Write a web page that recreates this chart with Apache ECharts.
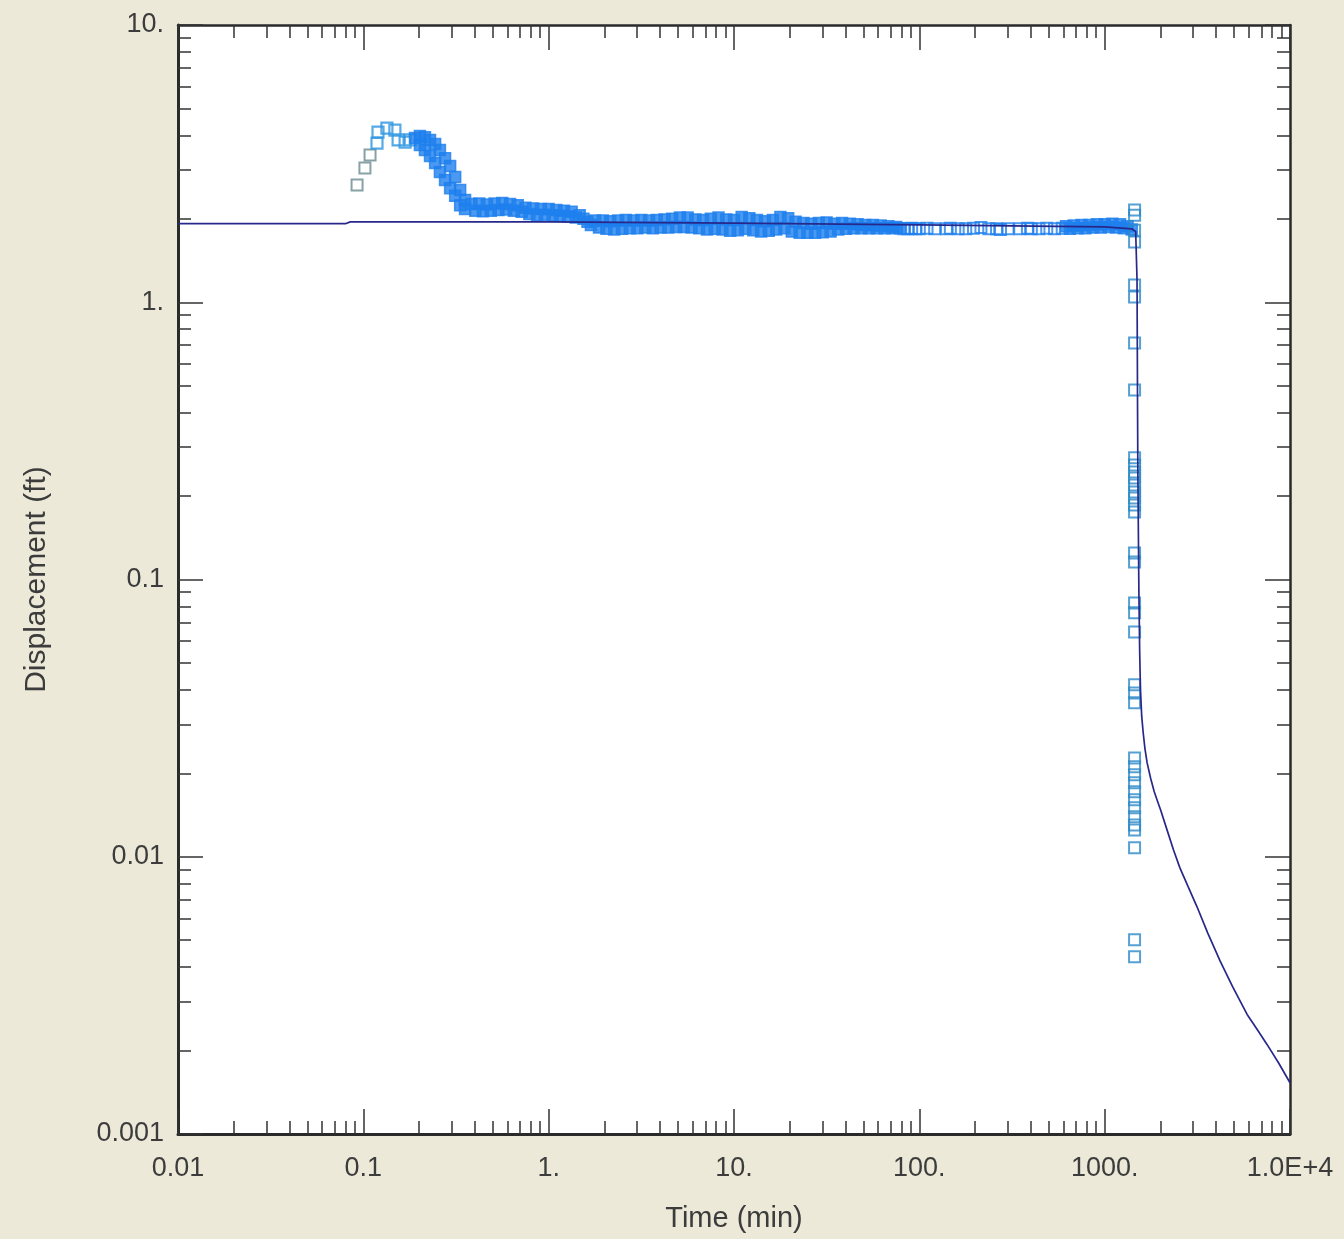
<!DOCTYPE html>
<html>
<head>
<meta charset="utf-8">
<script src="https://cdn.jsdelivr.net/npm/echarts@6/dist/echarts.min.js"></script>
<style>
html,body{margin:0;padding:0;background:#ece9d8;}
#chart{width:1344px;height:1239px;}
</style>
</head>
<body>
<div id="chart"></div>
<script>
// ---- Axis tick labels ----
const xTickValues = [0.01, 0.1, 1, 10, 100, 1000, 10000];
const xTickLabels = ['0.01', '0.1', '1.', '10.', '100.', '1000.', '1.0E+4'];
const yTickValues = [0.001, 0.01, 0.1, 1, 10];
const yTickLabels = ['0.001', '0.01', '0.1', '1.', '10.'];

// ---- Early-time observations (grey / teal squares) ----
const earlyTime = [0.0925, 0.102, 0.1087];
const earlyDisp = [2.65, 3.05, 3.40];

// ---- Peak observations (separate hollow squares) ----
const peakTime = [0.1185, 0.120, 0.134, 0.148, 0.154, 0.168, 0.179];
const peakDisp = [3.75, 4.11, 4.25, 4.18, 3.85, 3.78, 3.85];

// ---- Densely sampled observations (merge into a solid band) ----
const bandTime = [
  0.190, 0.202, 0.202, 0.215, 0.215, 0.229, 0.229, 0.244, 0.244, 0.259,
  0.259, 0.276, 0.276, 0.294, 0.294, 0.313, 0.313, 0.333, 0.333, 0.354,
  0.354, 0.383, 0.402, 0.422, 0.442, 0.464, 0.487, 0.511, 0.536, 0.562,
  0.590, 0.619, 0.649, 0.681, 0.715, 0.750, 0.787, 0.825, 0.866, 0.909,
  0.953, 1.00, 1.05, 1.10, 1.15, 1.21, 1.27, 1.33, 1.40, 1.47,
  1.54, 1.62, 1.69, 1.78, 1.87, 1.96, 2.05, 2.15, 2.26, 2.37,
  2.49, 2.61, 2.74, 2.87, 3.01, 3.16, 3.32, 3.48, 3.65, 3.83,
  4.02, 4.22, 4.42, 4.64, 4.87, 5.11, 5.36, 5.62, 5.90, 6.19,
  6.49, 6.81, 7.15, 7.50, 7.87, 8.25, 8.66, 9.09, 9.53, 10.0,
  10.5, 11.0, 11.5, 12.1, 12.7, 13.3, 14.0, 14.7, 15.4, 16.2,
  16.9, 17.8, 18.7, 19.6, 20.5, 21.5, 22.6, 23.7, 24.9, 26.1,
  27.4, 28.7, 30.1, 31.6, 33.2, 34.8, 36.5, 38.3, 40.2, 42.2,
  44.2, 46.4, 48.7, 51.1, 53.6, 56.2, 59.0, 61.9, 64.9, 68.1,
  71.5, 75.0, 78.7,
  619, 649, 681, 715, 750, 787, 825, 866, 909, 953,
  1000, 1050, 1100, 1150, 1210, 1270, 1330, 1400
];
const bandDisp = [
  3.91, 3.98, 3.69, 3.94, 3.54, 3.85, 3.37, 3.72, 3.18, 3.54,
  2.95, 3.31, 2.76, 3.10, 2.58, 2.83, 2.42, 2.54, 2.24, 2.34,
  2.17, 2.26, 2.14, 2.27, 2.13, 2.25, 2.14, 2.27, 2.15, 2.28,
  2.16, 2.26, 2.14, 2.24, 2.12, 2.19, 2.08, 2.18, 2.06, 2.17,
  2.07, 2.17, 2.06, 2.15, 2.05, 2.14, 2.04, 2.12, 2.02, 2.06,
  2.00, 1.95, 1.90, 1.97, 1.86, 1.97, 1.84, 1.96, 1.83, 1.97,
  1.84, 1.98, 1.85, 1.97, 1.85, 1.98, 1.86, 1.97, 1.85, 1.98,
  1.86, 1.99, 1.86, 2.00, 1.87, 2.02, 1.87, 2.02, 1.86, 1.99,
  1.85, 1.98, 1.83, 2.00, 1.84, 2.02, 1.83, 1.99, 1.81, 1.98,
  1.82, 2.03, 1.84, 2.01, 1.82, 1.98, 1.80, 1.96, 1.81, 1.98,
  1.83, 2.03, 1.85, 2.01, 1.80, 1.95, 1.78, 1.93, 1.78, 1.92,
  1.78, 1.93, 1.79, 1.94, 1.80, 1.92, 1.83, 1.93, 1.84, 1.92,
  1.85, 1.91, 1.85, 1.90, 1.85, 1.90, 1.85, 1.89, 1.85, 1.88,
  1.85, 1.87, 1.85,
  1.88, 1.84, 1.89, 1.85, 1.90, 1.85, 1.90, 1.86, 1.91, 1.86,
  1.91, 1.87, 1.92, 1.86, 1.91, 1.85, 1.88, 1.83
];

// ---- Sparser observations (individual hollow squares) ----
const sparseTime = [82.5, 86.6, 90.9, 95.3, 100, 110, 121, 140, 147, 162,
  178, 196, 215, 237, 261, 274, 301, 348, 383, 402,
  442, 487, 536, 590];
const sparseDisp = [1.84, 1.84, 1.85, 1.84, 1.84, 1.85, 1.84, 1.84, 1.85, 1.84,
  1.84, 1.85, 1.86, 1.84, 1.84, 1.83, 1.84, 1.84, 1.85, 1.84,
  1.84, 1.85, 1.84, 1.85];

// ---- Recovery column (after pumping stopped) ----
const recTime = [
  1450, 1450, 1450, 1450, 1450, 1450, 1450, 1450, 1450, 1450,
  1450, 1450, 1450, 1450, 1450, 1450, 1450, 1450, 1450, 1450,
  1450, 1450, 1450, 1450, 1450, 1450, 1450, 1450, 1450, 1450,
  1450, 1450, 1450, 1450, 1450, 1450, 1450, 1450
];
const recDisp = [
  2.15, 2.06, 1.82, 1.65, 1.155, 1.045, 0.713, 0.483, 0.2746, 0.259,
  0.2443, 0.2325, 0.2194, 0.2069, 0.1969, 0.1858, 0.1753, 0.1247, 0.1157, 0.0823,
  0.0758, 0.0647, 0.0417, 0.0390, 0.0359, 0.02273, 0.0211, 0.01974, 0.01847, 0.01714,
  0.01604, 0.01501, 0.01393, 0.01303, 0.0125, 0.01077, 0.00502, 0.00436
];

// ---- Fitted model curve ----
const fitTime = [0.01, 0.08, 0.085, 1, 10, 100, 1000, 1400, 1470, 1495,
  1500, 1505, 1510, 1520, 1530, 1545, 1560, 1585, 1614, 1650,
  1695, 1770, 1850, 1920, 2000, 2170, 2350, 2550, 2820, 3150,
  3600, 4200, 4900, 5870, 6600, 7530, 8700, 10000];
const fitDisp = [1.92, 1.92, 1.95, 1.95, 1.93, 1.90, 1.87, 1.84, 1.80, 1.2,
  0.7, 0.4, 0.25, 0.15, 0.09, 0.055, 0.040, 0.032, 0.0280, 0.0245,
  0.0218, 0.0192, 0.0172, 0.0160, 0.0148, 0.0125, 0.0106, 0.0091, 0.0078, 0.0066,
  0.0053, 0.0042, 0.0034, 0.0027, 0.0024, 0.0021, 0.0018, 0.00153];

function pairs(a, b) { return a.map((t, i) => [t, b[i]]); }
function minorTicks(lo, hi) {
  const out = [];
  for (let d = lo; d < hi; d++) {
    for (let k = 2; k <= 9; k++) out.push(+(k * Math.pow(10, d)).toPrecision(3));
  }
  return out;
}
const xMinor = minorTicks(-2, 4);
const yMinor = minorTicks(-3, 1);

function labelFor(vals, labels) {
  return function (v) {
    const e = Math.round(Math.log10(v));
    for (let i = 0; i < vals.length; i++) {
      if (Math.round(Math.log10(vals[i])) === e) return labels[i];
    }
    return '';
  };
}

const FONT = 'Liberation Sans, Arial, sans-serif';
const AX = '#2a2a2a';
const TXT = '#3c3c3c';
const BLUE = '#1e80ee';

function xAx(pos, major, withLabel, lineW) {
  return {
    type: 'log', logBase: 10, min: 0.01, max: 10000, position: pos, gridIndex: 0,
    name: withLabel ? 'Time (min)' : '', nameLocation: 'middle', nameGap: 70,
    nameTextStyle: { fontFamily: FONT, fontSize: 29, color: TXT },
    axisLine: { show: major, onZero: false, lineStyle: { color: AX, width: lineW } },
    axisTick: { show: true, inside: true, length: major ? 25 : 13,
      customValues: major ? xTickValues : xMinor,
      lineStyle: { color: '#333', width: 1.5 } },
    axisLabel: { show: withLabel, customValues: xTickValues, margin: 21,
      formatter: labelFor(xTickValues, xTickLabels),
      fontFamily: FONT, fontSize: 27, color: TXT },
    splitLine: { show: false }, minorTick: { show: false }
  };
}
function yAx(pos, major, withLabel, lineW) {
  return {
    type: 'log', logBase: 10, min: 0.001, max: 10, position: pos, gridIndex: 0,
    name: withLabel ? 'Displacement (ft)' : '', nameLocation: 'middle', nameGap: 126,
    nameRotate: 90,
    nameTextStyle: { fontFamily: FONT, fontSize: 30, color: TXT },
    axisLine: { show: major, onZero: false, lineStyle: { color: AX, width: lineW } },
    axisTick: { show: true, inside: true, length: major ? 25 : 13,
      customValues: major ? yTickValues : yMinor,
      lineStyle: { color: '#333', width: 1.5 } },
    axisLabel: { show: withLabel, customValues: yTickValues, margin: 14,
      formatter: labelFor(yTickValues, yTickLabels),
      fontFamily: FONT, fontSize: 27, color: TXT },
    splitLine: { show: false }, minorTick: { show: false }
  };
}

const chart = echarts.init(document.getElementById('chart'), null, { renderer: 'canvas' });
chart.setOption({
  animation: false,
  backgroundColor: '#ece9d8',
  grid: { left: 178, right: 54, top: 25, bottom: 105, show: true,
    backgroundColor: '#ffffff', borderWidth: 0 },
  xAxis: [
    xAx('bottom', true, true, 3),
    xAx('bottom', false, false, 0),
    xAx('top', true, false, 2.5),
    xAx('top', false, false, 0)
  ],
  yAxis: [
    yAx('left', true, true, 3),
    yAx('left', false, false, 0),
    yAx('right', true, false, 2.5),
    yAx('right', false, false, 0)
  ],
  series: [
    {
      name: 'early', type: 'scatter', xAxisIndex: 0, yAxisIndex: 0,
      data: pairs(earlyTime, earlyDisp), symbol: 'rect', symbolSize: 11,
      itemStyle: { color: 'rgba(0,0,0,0)', borderColor: '#6a8a90', borderWidth: 2 }
    },
    {
      name: 'peak', type: 'scatter', xAxisIndex: 0, yAxisIndex: 0,
      data: pairs(peakTime, peakDisp), symbol: 'rect', symbolSize: 11,
      itemStyle: { color: 'rgba(0,0,0,0)', borderColor: '#2c95e0', borderWidth: 2.2 }
    },
    {
      name: 'band', type: 'scatter', xAxisIndex: 0, yAxisIndex: 0,
      data: pairs(bandTime, bandDisp), symbol: 'rect', symbolSize: 11,
      itemStyle: { color: BLUE, borderColor: BLUE, borderWidth: 1.5 }
    },
    {
      name: 'sparse', type: 'scatter', xAxisIndex: 0, yAxisIndex: 0,
      data: pairs(sparseTime, sparseDisp), symbol: 'rect', symbolSize: 11,
      itemStyle: { color: 'rgba(0,0,0,0)', borderColor: BLUE, borderWidth: 2 }
    },
    {
      name: 'recovery', type: 'scatter', xAxisIndex: 0, yAxisIndex: 0,
      data: pairs(recTime, recDisp), symbol: 'rect', symbolSize: 11,
      itemStyle: { color: 'rgba(0,0,0,0)', borderColor: '#2c88c8', borderWidth: 2 }
    },
    {
      name: 'fit', type: 'line', xAxisIndex: 0, yAxisIndex: 0, z: 5,
      data: pairs(fitTime, fitDisp), showSymbol: false, smooth: false,
      lineStyle: { color: '#28288a', width: 1.7 }
    }
  ]
});
</script>
</body>
</html>
